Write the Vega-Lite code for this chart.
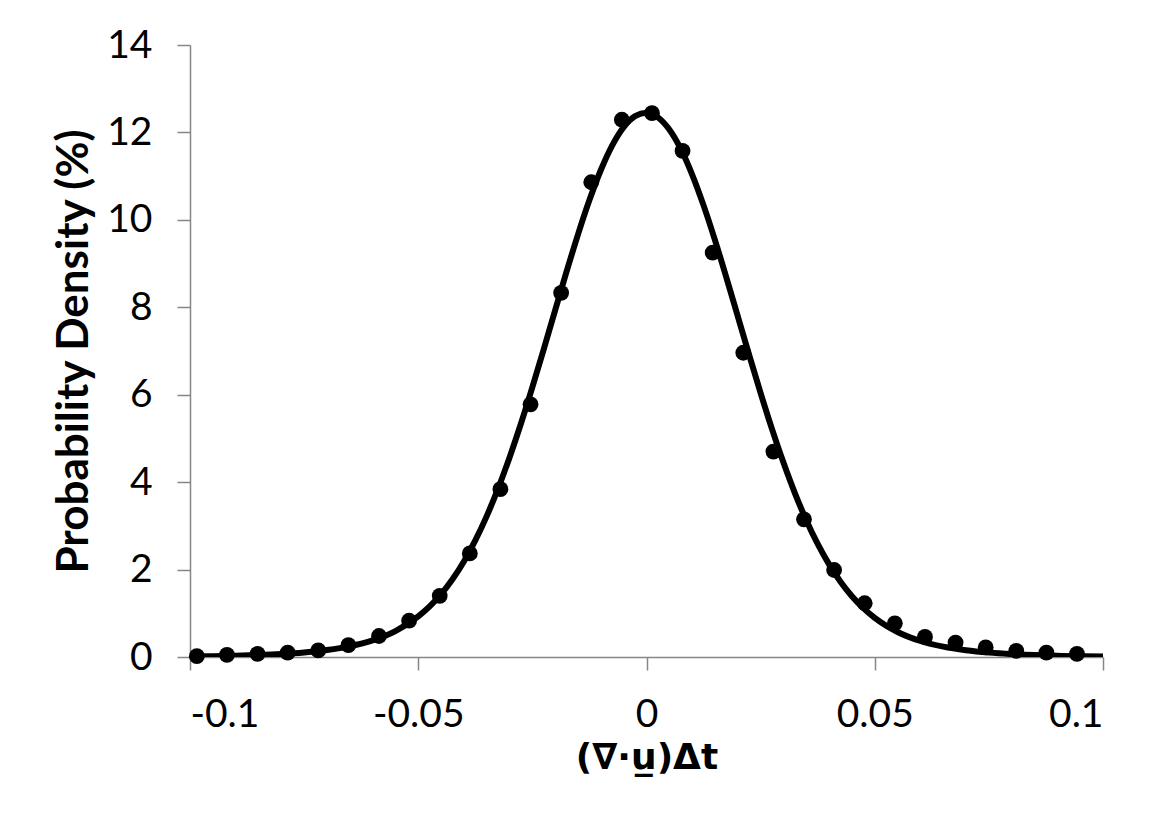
{
  "$schema": "https://vega.github.io/schema/vega-lite/v6.json",
  "width": 913,
  "height": 612,
  "autosize": {"type": "none"},
  "padding": {"left": 190, "top": 45, "right": 55, "bottom": 176},
  "background": "white",
  "config": {
    "view": {"stroke": null},
    "font": "Lato",
    "axis": {
      "grid": false,
      "domainColor": "#868686",
      "domainWidth": 1.5,
      "tickColor": "#868686",
      "tickWidth": 1.5,
      "tickSize": 13,
      "labelFont": "Lato",
      "labelFontSize": 39,
      "labelColor": "black",
      "labelPadding": 25,
      "titleFont": "Lato",
      "titleFontSize": 44,
      "titleFontWeight": "bold",
      "titleColor": "black"
    }
  },
  "datasets": {
    "points": [
      {"x": -0.0985, "y": 0.02},
      {"x": -0.0919, "y": 0.05},
      {"x": -0.0852, "y": 0.07},
      {"x": -0.0786, "y": 0.10},
      {"x": -0.0719, "y": 0.15},
      {"x": -0.0653, "y": 0.27},
      {"x": -0.0586, "y": 0.48},
      {"x": -0.0520, "y": 0.83},
      {"x": -0.0453, "y": 1.40},
      {"x": -0.0387, "y": 2.37},
      {"x": -0.0320, "y": 3.84},
      {"x": -0.0254, "y": 5.78},
      {"x": -0.0187, "y": 8.33},
      {"x": -0.0121, "y": 10.86},
      {"x": -0.0054, "y": 12.29},
      {"x": 0.0012, "y": 12.44},
      {"x": 0.0079, "y": 11.58},
      {"x": 0.0145, "y": 9.25},
      {"x": 0.0212, "y": 6.96},
      {"x": 0.0278, "y": 4.70},
      {"x": 0.0345, "y": 3.15},
      {"x": 0.0411, "y": 1.99},
      {"x": 0.0478, "y": 1.23},
      {"x": 0.0544, "y": 0.77},
      {"x": 0.0610, "y": 0.46},
      {"x": 0.0677, "y": 0.33},
      {"x": 0.0743, "y": 0.22},
      {"x": 0.0810, "y": 0.14},
      {"x": 0.0876, "y": 0.10},
      {"x": 0.0943, "y": 0.07}
    ],
    "curve": [
      {"x": -0.1, "y": 0.011},
      {"x": -0.095, "y": 0.018},
      {"x": -0.09, "y": 0.029},
      {"x": -0.085, "y": 0.045},
      {"x": -0.08, "y": 0.069},
      {"x": -0.075, "y": 0.105},
      {"x": -0.07, "y": 0.159},
      {"x": -0.065, "y": 0.244},
      {"x": -0.06, "y": 0.379},
      {"x": -0.055, "y": 0.592},
      {"x": -0.05, "y": 0.928},
      {"x": -0.0475, "y": 1.157},
      {"x": -0.045, "y": 1.439},
      {"x": -0.0425, "y": 1.780},
      {"x": -0.04, "y": 2.187},
      {"x": -0.0375, "y": 2.668},
      {"x": -0.035, "y": 3.223},
      {"x": -0.0325, "y": 3.857},
      {"x": -0.03, "y": 4.566},
      {"x": -0.0275, "y": 5.341},
      {"x": -0.025, "y": 6.174},
      {"x": -0.0225, "y": 7.045},
      {"x": -0.02, "y": 7.936},
      {"x": -0.0175, "y": 8.820},
      {"x": -0.015, "y": 9.669},
      {"x": -0.0125, "y": 10.452},
      {"x": -0.01, "y": 11.140},
      {"x": -0.0075, "y": 11.705},
      {"x": -0.005, "y": 12.122},
      {"x": -0.0025, "y": 12.374},
      {"x": 0, "y": 12.449},
      {"x": 0.0025, "y": 12.345},
      {"x": 0.005, "y": 12.066},
      {"x": 0.0075, "y": 11.623},
      {"x": 0.01, "y": 11.037},
      {"x": 0.0125, "y": 10.331},
      {"x": 0.015, "y": 9.536},
      {"x": 0.0175, "y": 8.680},
      {"x": 0.02, "y": 7.794},
      {"x": 0.0225, "y": 6.904},
      {"x": 0.025, "y": 6.036},
      {"x": 0.0275, "y": 5.212},
      {"x": 0.03, "y": 4.447},
      {"x": 0.0325, "y": 3.750},
      {"x": 0.035, "y": 3.130},
      {"x": 0.0375, "y": 2.585},
      {"x": 0.04, "y": 2.118},
      {"x": 0.0425, "y": 1.722},
      {"x": 0.045, "y": 1.390},
      {"x": 0.0475, "y": 1.118},
      {"x": 0.05, "y": 0.895},
      {"x": 0.055, "y": 0.572},
      {"x": 0.06, "y": 0.366},
      {"x": 0.065, "y": 0.236},
      {"x": 0.07, "y": 0.154},
      {"x": 0.075, "y": 0.101},
      {"x": 0.08, "y": 0.066},
      {"x": 0.085, "y": 0.043},
      {"x": 0.09, "y": 0.028},
      {"x": 0.095, "y": 0.017},
      {"x": 0.1, "y": 0.011}
    ]
  },
  "layer": [
    {
      "data": {"name": "curve"},
      "mark": {"type": "line", "color": "black", "strokeWidth": 6, "interpolate": "monotone", "clip": true},
      "encoding": {
        "x": {
          "field": "x", "type": "quantitative",
          "scale": {"domain": [-0.1, 0.1], "nice": false, "zero": false},
          "axis": {
            "values": [-0.1, -0.05, 0, 0.05, 0.1],
            "labelExpr": "'' + datum.value",
            "title": "(∇·u̲)Δt",
            "titleFont": "DejaVu Sans",
            "titleFontSize": 36,
            "titlePadding": 6
          }
        },
        "y": {
          "field": "y", "type": "quantitative",
          "scale": {"domain": [0, 14], "nice": false},
          "axis": {
            "values": [0, 2, 4, 6, 8, 10, 12, 14],
            "title": "Probability Density (%)",
            "titlePadding": 10
          }
        }
      }
    },
    {
      "data": {"name": "points"},
      "mark": {"type": "point", "filled": true, "shape": "circle", "color": "black", "size": 250, "opacity": 1},
      "encoding": {
        "x": {"field": "x", "type": "quantitative"},
        "y": {"field": "y", "type": "quantitative"}
      }
    }
  ]
}
